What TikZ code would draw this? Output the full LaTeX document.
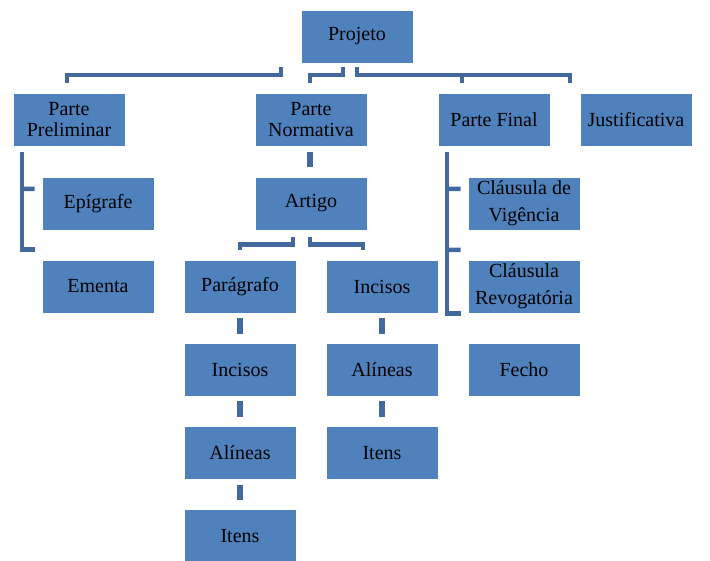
\documentclass[tikz,border=0pt]{standalone}
\usepackage{fontspec}
\setmainfont{Liberation Serif}
\usetikzlibrary{calc}
\definecolor{boxblue}{HTML}{4F81BD}
\definecolor{linkblue}{HTML}{41699E}

\begin{document}
\begin{tikzpicture}[
  x=1pt, y=-1pt,
  box/.style={rectangle,fill=boxblue,draw=white,line width=0.8pt,minimum width=112pt,minimum height=53pt,inner sep=1pt,align=center,font=\fontsize{20}{21}\selectfont},
  tall/.style={font=\fontsize{20}{27}\selectfont},
  link/.style={draw=linkblue,line width=4.5pt},
  stub/.style={draw=linkblue,line width=5.5pt}
]
\useasboundingbox (0,0) rectangle (710,561);
\node[box] (proj) at (357,36.5) {Projeto};
\node[box] (pre) at (69,120) {Parte\\Preliminar};
\node[box] (nor) at (311,120) {Parte\\Normativa};
\node[box] (fin) at (494,120) {Parte Final};
\node[box] (jus) at (636,120) {Justificativa};
\node[box] (epi) at (98,203.5) {Epígrafe};
\node[box] (eme) at (98,286.5) {Ementa};
\node[box] (art) at (311,203.5) {Artigo};
\node[box] (par) at (240,286.5) {Parágrafo};
\node[box] (incb) at (382,286.5) {Incisos};
\node[box] (inca) at (240,369.5) {Incisos};
\node[box] (alia) at (240,453) {Alíneas};
\node[box] (itea) at (240,536) {Itens};
\node[box] (alib) at (382,369.5) {Alíneas};
\node[box] (iteb) at (382,453) {Itens};
\node[box,tall] (vig) at (524,203.5) {Cláusula de\\Vigência};
\node[box,tall] (rev) at (524,286.5) {Cláusula\\Revogatória};
\node[box] (fec) at (524,369.5) {Fecho};
% Projeto
\draw[link] ($(proj.south)+(-76,4)$) -- ++(0,7.5) -| ($(pre.north)+(-2,-10)$);
\draw[link] ($(proj.south)+(-14,4)$) -- ++(0,7.5) -| ($(nor.north)+(-1,-10)$);
\draw[link] ($(proj.south)+(0,4)$) -- ++(0,7.5) -| ($(jus.north)+(-66,-10)$);
\draw[link] ($(fin.north)+(-32,-10)$) -- ++(0,-8.5);
% Parte Preliminar
\draw[link] ($(pre.south)+(-47,5)$) |- ($(eme.north west)+(-7,-10)$);
\draw[link] ($(pre.south)+(-47,42)$) -- ($(epi.west)+(-7,-14.5)$);
% Parte Normativa
\draw[stub] ($(nor.south)+(-1,5)$) -- ($(art.north)+(-1,-10)$);
\draw[link] ($(art.south)+(-18,7)$) -- ++(0,7) -| ($(par.north)+(0,-10)$);
\draw[link] ($(art.south)+(-1,7)$) -- ++(0,7) -| ($(incb.north)+(-19,-10)$);
\foreach \a/\b in {par/inca,inca/alia,alia/itea,incb/alib,alib/iteb}
  \draw[stub] ($(\a.south)+(0,5)$) -- ($(\b.north)+(0,-9)$);
% Parte Final
\draw[link] ($(fin.south)+(-47,5)$) |- ($(rev.south west)+(-7,0)$);
\draw[link] ($(fin.south)+(-47,42)$) -- ($(vig.west)+(-7,-14.5)$);
\draw[link] ($(fin.south)+(-47,103)$) -- ($(rev.west)+(-7,-36.5)$);
\end{tikzpicture}
\end{document}
